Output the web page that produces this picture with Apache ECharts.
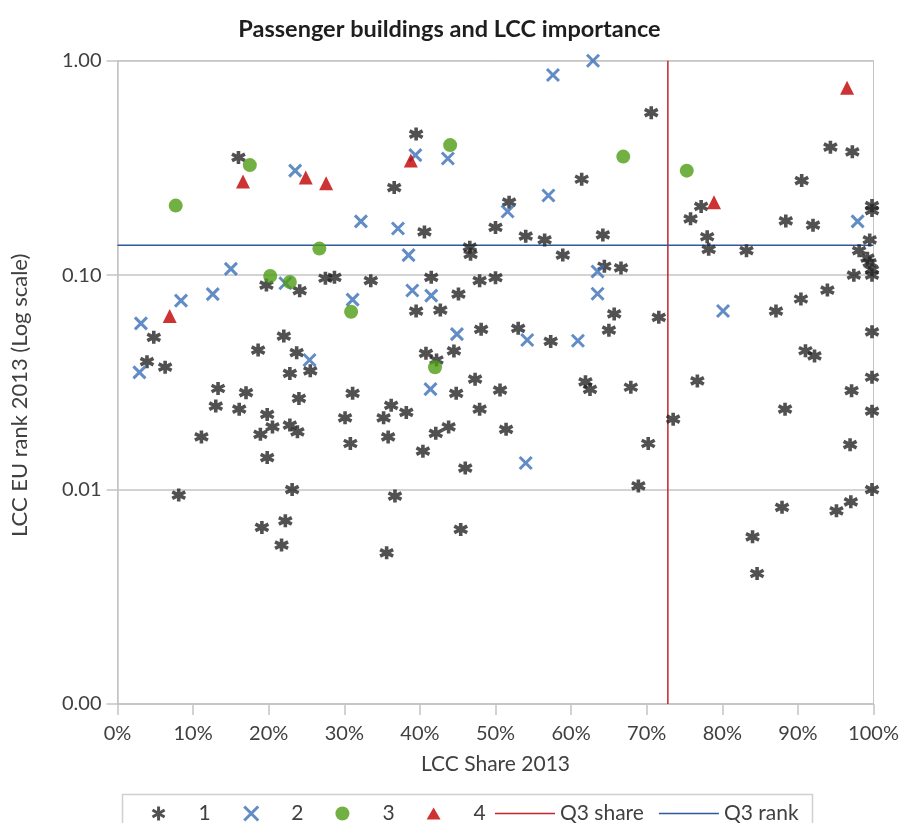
<!DOCTYPE html>
<html>
<head>
<meta charset="utf-8">
<script src="https://cdn.jsdelivr.net/npm/echarts@6/dist/echarts.min.js"></script>
<style>
html,body{margin:0;padding:0;background:#fff;overflow:hidden;}
#chart{width:899px;height:823px;}
</style>
</head>
<body>
<div id="chart"></div>
<script>
// ---- Data (x = LCC share 2013 as fraction, y = LCC EU rank 2013) ----
const seriesNames = ['1', '2', '3', '4'];
const lineNames = ['Q3 share', 'Q3 rank'];
const group1 = [[0.160,0.354],[0.366,0.256],[0.197,0.0899],[0.241,0.0846],[0.275,0.0967],[0.287,0.0977],[0.335,0.0942],[0.706,0.572],[0.395,0.455],[0.614,0.280],[0.518,0.219],[0.406,0.159],[0.500,0.167],[0.540,0.152],[0.565,0.146],[0.642,0.154],[0.466,0.135],[0.467,0.125],[0.589,0.124],[0.644,0.110],[0.666,0.108],[0.415,0.0977],[0.479,0.0942],[0.500,0.0973],[0.451,0.0816],[0.943,0.395],[0.972,0.376],[0.905,0.276],[0.772,0.209],[0.758,0.183],[0.884,0.179],[0.920,0.171],[0.998,0.211],[0.998,0.200],[0.780,0.151],[0.782,0.132],[0.832,0.130],[0.995,0.146],[0.981,0.130],[0.992,0.120],[0.995,0.114],[0.974,0.100],[0.998,0.106],[0.998,0.100],[0.939,0.0852],[0.904,0.0774],[0.048,0.0513],[0.220,0.0520],[0.186,0.0447],[0.237,0.0435],[0.255,0.0358],[0.228,0.0348],[0.039,0.0395],[0.063,0.0372],[0.133,0.0296],[0.170,0.0283],[0.130,0.0245],[0.161,0.0237],[0.240,0.0266],[0.198,0.0224],[0.311,0.0281],[0.362,0.0247],[0.228,0.0200],[0.205,0.0196],[0.238,0.0186],[0.189,0.0181],[0.301,0.0216],[0.352,0.0216],[0.111,0.0176],[0.308,0.0164],[0.358,0.0176],[0.198,0.0141],[0.231,0.0100],[0.081,0.00943],[0.367,0.00933],[0.191,0.00666],[0.222,0.00715],[0.217,0.00551],[0.356,0.00507],[0.395,0.0680],[0.427,0.0687],[0.657,0.0659],[0.716,0.0636],[0.650,0.0554],[0.481,0.0559],[0.530,0.0565],[0.573,0.0491],[0.408,0.0432],[0.422,0.0402],[0.445,0.0443],[0.448,0.0281],[0.473,0.0327],[0.506,0.0291],[0.619,0.0318],[0.625,0.0293],[0.679,0.0300],[0.382,0.0229],[0.479,0.0237],[0.421,0.0183],[0.438,0.0196],[0.514,0.0191],[0.404,0.0151],[0.460,0.0126],[0.702,0.0164],[0.689,0.0104],[0.735,0.0213],[0.454,0.00652],[0.871,0.0680],[0.998,0.0544],[0.910,0.0444],[0.922,0.0420],[0.767,0.0321],[0.998,0.0334],[0.971,0.0289],[0.883,0.0237],[0.998,0.0232],[0.969,0.0162],[0.998,0.0100],[0.879,0.00826],[0.951,0.00796],[0.970,0.00877],[0.840,0.00602],[0.846,0.00406]];
const group2 = [[0.235,0.307],[0.629,1.0],[0.576,0.858],[0.394,0.363],[0.437,0.350],[0.570,0.235],[0.516,0.198],[0.322,0.178],[0.371,0.165],[0.150,0.107],[0.222,0.0916],[0.385,0.124],[0.635,0.104],[0.390,0.0848],[0.415,0.0803],[0.635,0.0819],[0.084,0.0761],[0.126,0.0816],[0.311,0.0769],[0.031,0.0596],[0.254,0.0402],[0.029,0.0352],[0.449,0.0531],[0.542,0.0498],[0.609,0.0494],[0.414,0.0294],[0.540,0.0133],[0.801,0.0680],[0.979,0.178]];
const group3 = [[0.175,0.326],[0.077,0.211],[0.267,0.133],[0.202,0.0990],[0.228,0.0929],[0.440,0.404],[0.669,0.357],[0.753,0.307],[0.309,0.0675],[0.420,0.0372]];
const group4 = [[0.166,0.273],[0.249,0.285],[0.276,0.268],[0.388,0.342],[0.965,0.748],[0.789,0.219],[0.069,0.0645]];
const q3Share = 0.728;
const q3Rank = 0.138;
const xTicks = [0, 0.1, 0.2, 0.3, 0.4, 0.5, 0.6, 0.7, 0.8, 0.9, 1.0];
const yRange = [0.001, 1];

const FONT = 'Lato';
const TXT = '#404040';
const GRID = '#c4c4c4';
const RED_LINE = '#c0272d';
const BLUE_LINE = '#2f5a9a';
const STAR_C = '#262626';
const X_C = '#3b6fb6';

const starPath = 'path://M0,-10 L0,10 M-8.66,-5 L8.66,5 M-8.66,5 L8.66,-5';
const xPath = 'path://M-10,-10 L10,10 M-10,10 L10,-10';
const triPath = 'path://M0,-10 L11,9 L-11,9 Z';
const linePath = 'path://M0,0 L60,0 L60,1.6 L0,1.6 Z';

const chart = echarts.init(document.getElementById('chart'), null, {renderer: 'canvas'});
const option = {
  animation: false,
  backgroundColor: '#ffffff',
  textStyle: {fontFamily: FONT, color: TXT},
  title: {
    text: 'Passenger buildings and LCC importance',
    left: 'center', top: 12,
    textStyle: {fontFamily: FONT, fontSize: 23.5, fontWeight: 'bold', color: '#1e1e1e'}
  },
  grid: {left: 117.5, right: 25.5, top: 60.7, bottom: 119, outerBoundsMode: 'none', containLabel: false,
    show: true, borderColor: GRID, borderWidth: 1},
  xAxis: {
    type: 'value', min: 0, max: 1, interval: 0.1,
    name: 'LCC Share 2013', nameLocation: 'middle', nameGap: 50,
    nameTextStyle: {fontFamily: FONT, fontSize: 21, color: TXT},
    axisLine: {show: true, lineStyle: {color: GRID, width: 1.5}},
    axisTick: {show: true, length: 11, lineStyle: {color: GRID, width: 1.5}},
    axisLabel: {fontFamily: FONT, fontSize: 20, color: TXT, margin: 20,
      formatter: v => Math.round(v * 100) + '%'},
    splitLine: {show: false}
  },
  yAxis: {
    type: 'log', logBase: 10, min: yRange[0], max: yRange[1],
    name: 'LCC EU rank 2013 (Log scale)', nameLocation: 'middle', nameGap: 87,
    nameTextStyle: {fontFamily: FONT, fontSize: 22, color: TXT, padding: [0, 26, 0, 0]},
    axisLine: {show: true, lineStyle: {color: GRID, width: 1.5}},
    axisTick: {show: true, length: 11, lineStyle: {color: GRID, width: 1.5}},
    axisLabel: {fontFamily: FONT, fontSize: 20, color: TXT, margin: 16,
      formatter: v => Number(v).toFixed(2)},
    splitLine: {show: true, lineStyle: {color: GRID, width: 1.5}}
  },
  legend: [
    {
      data: [
        {name: seriesNames[0], itemStyle: {color: STAR_C, borderColor: STAR_C, borderWidth: 3}},
        {name: seriesNames[1], itemStyle: {color: X_C, borderColor: X_C, borderWidth: 3}},
        {name: seriesNames[2]},
        {name: seriesNames[3]}
      ],
      left: 146, top: 798, orient: 'horizontal',
      itemWidth: 14, itemHeight: 14, itemGap: 32,
      textStyle: {fontFamily: FONT, fontSize: 21, color: TXT, padding: [0, 0, 0, 28]}
    },
    {
      data: lineNames.map(n => ({name: n, icon: linePath})), left: 490, top: 798,
      itemWidth: 60, itemHeight: 14, itemGap: 15,
      textStyle: {fontFamily: FONT, fontSize: 21, color: TXT}
    }
  ],
  graphic: [{
    type: 'rect', left: 120, top: 792, shape: {width: 690, height: 40},
    style: {fill: 'none', stroke: '#d0d0d0', lineWidth: 1.5}, silent: true
  }],
  series: [
    {name: seriesNames[0], type: 'scatter', data: group1, symbol: starPath, symbolSize: 13,
      itemStyle: {color: STAR_C, borderColor: STAR_C, borderWidth: 3.6}, z: 3},
    {name: seriesNames[1], type: 'scatter', data: group2, symbol: xPath, symbolSize: 12,
      itemStyle: {color: X_C, borderColor: X_C, borderWidth: 3}, z: 4},
    {name: seriesNames[2], type: 'scatter', data: group3, symbol: 'circle', symbolSize: 14,
      itemStyle: {color: '#4f9c14'}, z: 4},
    {name: seriesNames[3], type: 'scatter', data: group4, symbol: triPath, symbolSize: 14,
      itemStyle: {color: '#c00000'}, z: 4},
    {name: lineNames[0], type: 'line', data: [[q3Share, yRange[0]], [q3Share, yRange[1]]],
      symbol: 'none', itemStyle: {color: RED_LINE}, lineStyle: {color: RED_LINE, width: 1.5}, z: 2},
    {name: lineNames[1], type: 'line', data: [[xTicks[0], q3Rank], [xTicks[xTicks.length - 1], q3Rank]],
      symbol: 'none', itemStyle: {color: BLUE_LINE}, lineStyle: {color: BLUE_LINE, width: 1.5}, z: 2}
  ]
};
chart.setOption(option);
</script>
</body>
</html>
